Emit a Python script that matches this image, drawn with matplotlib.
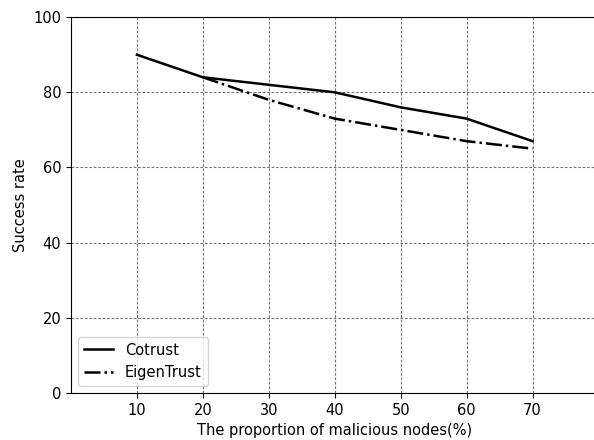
import matplotlib
matplotlib.use("Agg")
import matplotlib.pyplot as plt

proportion = [10, 20, 30, 40, 50, 60, 70]
cotrust = [90, 84, 82, 80, 76, 73, 67]
eigen_x = [20, 30, 40, 50, 60, 70]
eigentrust = [84, 78, 73, 70, 67, 65]

fig = plt.figure(figsize=(5.94, 4.4), dpi=100)
ax = fig.add_axes([0.1195, 0.107, 0.888, 0.854])

ax.plot(proportion, cotrust, "k-", linewidth=1.8, label="Cotrust")
ax.plot(eigen_x, eigentrust, "k-.", linewidth=1.8, label="EigenTrust")

ax.set_xlim(0, 80)
ax.set_ylim(0, 100)
ax.set_xticks(proportion)
ax.set_yticks([0, 20, 40, 60, 80, 100])
ax.grid(True, linestyle=(0, (2.5, 1.5)), color="#777777", linewidth=0.8)
ax.spines["right"].set_visible(False)
ax.tick_params(labelsize=10.5)
ax.set_xlabel("The proportion of malicious nodes(%)", fontsize=10.5)
ax.set_ylabel("Success rate", fontsize=10.5)
ax.legend(loc="lower left", fontsize=10.5)

fig.savefig("out.png", dpi=100)
